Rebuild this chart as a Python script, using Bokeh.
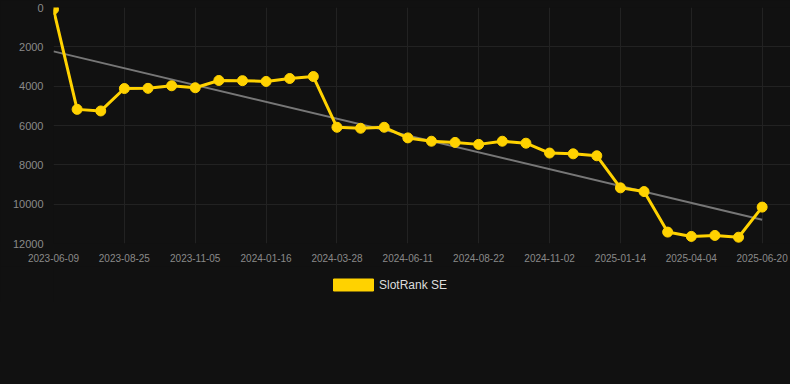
import numpy as np
from bokeh.plotting import figure
from bokeh.layouts import column
from bokeh.models import ColumnDataSource, Legend, LegendItem, FixedTicker, Range1d
from bokeh.embed import file_html
from bokeh.resources import INLINE

tick_labels = ["2023-06-09", "2023-08-25", "2023-11-05", "2024-01-16", "2024-03-28",
               "2024-06-11", "2024-08-22", "2024-11-02", "2025-01-14", "2025-04-04",
               "2025-06-20"]
ranks = [90, 5180, 5260, 4120, 4110, 3980, 4080, 3710, 3720, 3760, 3610, 3510,
         6090, 6140, 6090, 6630, 6800, 6860, 6960, 6800, 6900, 7400, 7440, 7540,
         9170, 9360, 11420, 11640, 11590, 11680, 10150]
series_name = "SlotRank SE"

idx = np.arange(len(ranks))
slope, intercept = np.polyfit(idx, ranks, 1)
trend_x = [float(idx[0]), float(idx[-1])]
trend_y = [float(intercept + slope * idx[0]), float(intercept + slope * idx[-1])]

BG = "#111111"
YELLOW = "#FFD200"

p = figure(width=790, height=266, output_backend="svg", toolbar_location=None,
           background_fill_color=BG, border_fill_color=BG, outline_line_color=None,
           min_border_left=53, min_border_right=0, min_border_top=7, min_border_bottom=23)
p.x_range = Range1d(0, 31.2)
p.y_range = Range1d(12000, 0)

p.line(trend_x, trend_y, line_color="#777777", line_width=2)
src = ColumnDataSource(dict(x=[int(i) for i in idx], y=ranks))
p.line("x", "y", source=src, line_color=YELLOW, line_width=3)
p.scatter("x", "y", source=src, size=10, fill_color=YELLOW, line_color=YELLOW)

tick_pos = list(range(0, len(ranks), 3))
p.xaxis.ticker = FixedTicker(ticks=tick_pos)
p.xaxis.major_label_overrides = {t: lab for t, lab in zip(tick_pos, tick_labels)}
p.yaxis.ticker = FixedTicker(ticks=[0, 2000, 4000, 6000, 8000, 10000, 12000])

for ax in (p.xaxis[0], p.yaxis[0]):
    ax.axis_line_color = None
    ax.major_tick_line_color = None
    ax.minor_tick_line_color = None
    ax.major_tick_out = 0
    ax.major_tick_in = 0
    ax.major_label_text_color = "#8a8a8a"
    ax.major_label_text_font = "Liberation Sans"
p.xaxis.major_label_text_font_size = "10px"
p.yaxis.major_label_text_font_size = "11px"
p.xaxis.major_label_standoff = 10
p.yaxis.major_label_standoff = 10

p.xgrid.grid_line_color = "#222222"
p.ygrid.grid_line_color = "#222222"

# legend strip below the chart
lg = figure(width=790, height=36, output_backend="svg", toolbar_location=None,
            background_fill_color=BG, border_fill_color=BG, outline_line_color=None,
            x_axis_type=None, y_axis_type=None,
            min_border_left=0, min_border_right=0, min_border_top=0, min_border_bottom=0)
lg.x_range = Range1d(0, 1)
lg.y_range = Range1d(0, 1)
lg.xgrid.visible = False
lg.ygrid.visible = False
dummy = lg.quad(left=[-10], right=[-9], top=[-10], bottom=[-9],
                fill_color=YELLOW, line_color=YELLOW)
legend = Legend(items=[LegendItem(label=series_name, renderers=[dummy])],
                orientation="horizontal", location=(275, 10),
                background_fill_color=BG, background_fill_alpha=1, border_line_color=None,
                label_text_color="#dddddd", label_text_font_size="12px",
                label_text_font="Liberation Sans",
                glyph_width=50, glyph_height=15, label_standoff=1,
                margin=0, padding=4)
lg.add_layout(legend, "center")

layout = column(p, lg, spacing=0)
html = file_html(layout, INLINE)
html = html.replace("<head>", "<head><style>html,body{background:#111111;}</style>", 1)
open("out.html", "w").write(html)
